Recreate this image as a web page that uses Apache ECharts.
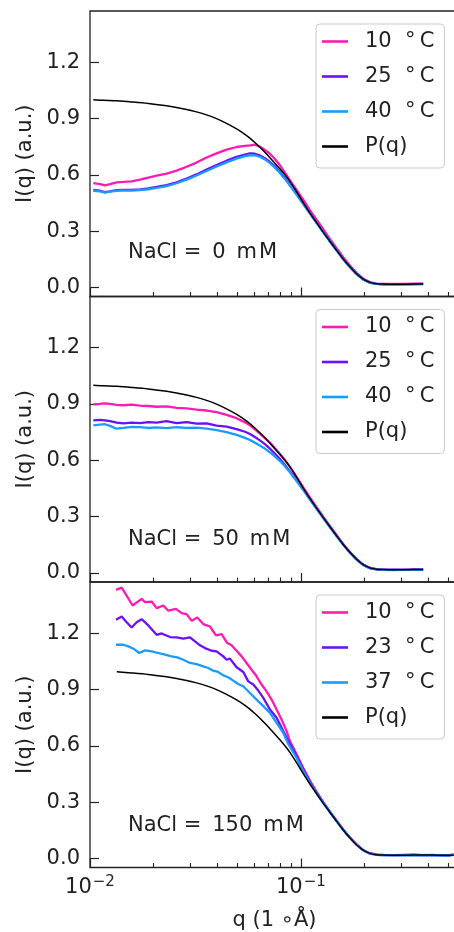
<!DOCTYPE html>
<html><head><meta charset="utf-8">
<script src="https://cdn.jsdelivr.net/npm/echarts@6/dist/echarts.min.js"></script>
<style>html,body{margin:0;padding:0;background:#fff}#c{width:454px;height:932px}</style>
</head><body><div id="c"></div>
<script>
// ---------------- DATA ----------------
const xMajorTicks = [0.01, 0.1];
const xMinorTicks = [0.02,0.03,0.04,0.05,0.06,0.07,0.08,0.09,0.2,0.3,0.4,0.5];
const yTicks = [0.0, 0.3, 0.6, 0.9, 1.2];
const panelLabels = ['NaCl = \u20090 \u2009m\u200aM', 'NaCl = \u200950 \u2009m\u200aM', 'NaCl = \u2009150 \u2009m\u200aM'];
const panelSeriesNames = [
  ['10  \u00b0\u2009C', '25  \u00b0\u2009C', '40  \u00b0\u2009C'],
  ['10  \u00b0\u2009C', '25  \u00b0\u2009C', '40  \u00b0\u2009C'],
  ['10  \u00b0\u2009C', '23  \u00b0\u2009C', '37  \u00b0\u2009C']
];
const pqName = 'P(q)';

// form factor P(q)
const pqQ = [0.01037,0.0115,0.0134,0.0158,0.0189,0.0231,0.0287,0.032,0.0357,0.0398,0.0444,0.0496,0.0543,0.0573,0.0605,0.0639,0.0675,0.0713,0.0753,0.0795,0.084,0.0887,0.0954,0.1026,0.1103,0.1187,0.1276,0.1372,0.1476,0.1587,0.1707,0.1836,0.1974,0.2123,0.2284,0.2456,0.274,0.3055,0.3407,0.38,0.42,0.47,0.53];
const pqI = [1.000,0.997,0.994,0.988,0.980,0.967,0.948,0.935,0.919,0.899,0.874,0.844,0.815,0.795,0.772,0.747,0.720,0.691,0.662,0.632,0.600,0.565,0.510,0.452,0.397,0.345,0.295,0.246,0.198,0.152,0.110,0.073,0.044,0.027,0.020,0.018,0.017,0.017,0.018,0.018,0.018,0.017,0.017];

// panels 1 and 2 share a q grid
const q12 = [0.01037,0.01115,0.01178,0.01244,0.01338,0.01439,0.01576,0.01726,0.0189,0.0207,0.02308,0.02574,0.02871,0.03201,0.03571,0.03984,0.04442,0.04955,0.05428,0.05733,0.06053,0.06392,0.06751,0.0713,0.07528,0.07953,0.08398,0.0887,0.09539,0.1026,0.1103,0.1187,0.1276,0.1372,0.1476,0.1587,0.1707,0.1836,0.1974,0.2123,0.2284,0.2456,0.274,0.3055,0.3407,0.38];

const p1_10C = [0.556,0.550,0.544,0.550,0.560,0.562,0.565,0.574,0.585,0.596,0.606,0.622,0.643,0.665,0.692,0.714,0.734,0.748,0.754,0.757,0.760,0.750,0.732,0.712,0.684,0.651,0.612,0.572,0.520,0.468,0.412,0.361,0.310,0.259,0.209,0.161,0.117,0.078,0.047,0.029,0.021,0.019,0.019,0.019,0.020,0.021];
const p1_25C = [0.520,0.515,0.508,0.512,0.518,0.520,0.520,0.522,0.527,0.535,0.545,0.560,0.580,0.602,0.628,0.652,0.675,0.695,0.708,0.714,0.712,0.703,0.688,0.668,0.645,0.615,0.583,0.547,0.497,0.446,0.396,0.345,0.296,0.247,0.199,0.152,0.110,0.072,0.043,0.026,0.019,0.017,0.017,0.017,0.018,0.019];
const p1_40C = [0.515,0.512,0.505,0.510,0.514,0.517,0.516,0.519,0.523,0.530,0.540,0.555,0.574,0.596,0.620,0.644,0.666,0.686,0.699,0.704,0.703,0.696,0.682,0.662,0.638,0.610,0.578,0.543,0.494,0.444,0.394,0.343,0.294,0.245,0.197,0.150,0.108,0.071,0.042,0.025,0.019,0.017,0.016,0.017,0.017,0.018];

const p2_10C = [0.898,0.900,0.903,0.900,0.895,0.893,0.896,0.891,0.889,0.885,0.887,0.879,0.876,0.870,0.865,0.856,0.842,0.824,0.802,0.786,0.765,0.742,0.718,0.694,0.664,0.633,0.601,0.566,0.512,0.456,0.402,0.350,0.300,0.251,0.202,0.155,0.112,0.075,0.045,0.028,0.020,0.018,0.018,0.018,0.019,0.019];
const p2_25C = [0.813,0.815,0.812,0.808,0.800,0.796,0.800,0.798,0.803,0.800,0.808,0.798,0.803,0.795,0.797,0.785,0.779,0.766,0.752,0.740,0.724,0.706,0.686,0.662,0.636,0.607,0.575,0.541,0.494,0.444,0.393,0.343,0.294,0.246,0.198,0.151,0.109,0.072,0.043,0.026,0.019,0.017,0.017,0.017,0.018,0.018];
const p2_40C = [0.786,0.790,0.792,0.783,0.768,0.772,0.778,0.777,0.772,0.775,0.771,0.776,0.773,0.774,0.768,0.760,0.750,0.735,0.719,0.708,0.694,0.679,0.662,0.642,0.621,0.596,0.568,0.536,0.490,0.442,0.391,0.342,0.293,0.245,0.197,0.150,0.108,0.071,0.042,0.025,0.019,0.017,0.016,0.017,0.017,0.018];

// panel 3 (each curve read at its own points)
const q3_10C = [0.01328,0.01413,0.01593,0.01757,0.01823,0.0196,0.0207,0.02226,0.02351,0.02556,0.02719,0.02872,0.03033,0.03226,0.03444,0.03705,0.03956,0.04207,0.04476,0.04692,0.04956,0.05234,0.05527,0.05837,0.06164,0.0651,0.06875,0.07261,0.07668,0.08098,0.08552,0.0887,0.0954,0.1026,0.1103,0.1187,0.1276,0.1372,0.1476,0.1587,0.1707,0.1836,0.1974,0.2123,0.2284,0.2456,0.274,0.3055,0.3407,0.38,0.42,0.47,0.50,0.53];
const i3_10C = [1.430,1.442,1.347,1.382,1.365,1.368,1.333,1.347,1.319,1.329,1.306,1.301,1.265,1.283,1.248,1.235,1.188,1.195,1.147,1.135,1.106,1.076,1.041,1.005,0.970,0.926,0.890,0.846,0.793,0.740,0.678,0.625,0.555,0.482,0.415,0.355,0.300,0.251,0.202,0.155,0.112,0.075,0.045,0.028,0.021,0.019,0.018,0.019,0.020,0.018,0.019,0.017,0.015,0.022];
const q3_23C = [0.01328,0.01413,0.01492,0.01576,0.01664,0.01757,0.0189,0.0207,0.02186,0.02394,0.02574,0.02769,0.02978,0.0318,0.03322,0.03508,0.03773,0.03984,0.04284,0.04443,0.04608,0.04956,0.0533,0.05629,0.05946,0.0628,0.06632,0.07131,0.07668,0.08246,0.0871,0.0954,0.1026,0.1103,0.1187,0.1276,0.1372,0.1476,0.1587,0.1707,0.1836,0.1974,0.2123,0.2284,0.2456,0.274,0.3055,0.3407,0.38,0.42,0.47,0.50,0.53];
const i3_23C = [1.271,1.288,1.258,1.230,1.258,1.274,1.241,1.191,1.198,1.179,1.177,1.170,1.177,1.152,1.135,1.120,1.106,1.103,1.076,1.058,1.064,1.018,0.993,0.943,0.926,0.894,0.855,0.793,0.749,0.678,0.625,0.545,0.475,0.408,0.350,0.297,0.248,0.200,0.153,0.111,0.074,0.044,0.027,0.020,0.018,0.018,0.018,0.019,0.018,0.018,0.017,0.016,0.020];
const q3_37C = [0.01328,0.01439,0.01519,0.01606,0.01713,0.01823,0.0196,0.02108,0.02267,0.02438,0.02593,0.02769,0.02978,0.03202,0.03444,0.03636,0.03839,0.04052,0.04284,0.04522,0.04776,0.05044,0.0533,0.05733,0.06164,0.06632,0.07131,0.07668,0.08246,0.0871,0.0954,0.1026,0.1103,0.1187,0.1276,0.1372,0.1476,0.1587,0.1707,0.1836,0.1974,0.2123,0.2284,0.2456,0.274,0.3055,0.3407,0.38,0.42,0.47,0.50,0.53];
const i3_37C = [1.138,1.138,1.129,1.117,1.094,1.108,1.103,1.094,1.085,1.076,1.071,1.058,1.041,1.035,1.023,1.014,1.000,0.993,0.975,0.965,0.947,0.929,0.917,0.881,0.846,0.811,0.775,0.722,0.669,0.610,0.535,0.465,0.400,0.345,0.295,0.247,0.199,0.152,0.110,0.073,0.043,0.026,0.019,0.018,0.017,0.017,0.018,0.017,0.018,0.016,0.015,0.019];

// ---------------- CHART ----------------
const FONT = '"DejaVu Sans", sans-serif';
const FS = 21;
const INK = '#222';
const colors = ['#ff1ab3', '#6b10ff', '#1a9bff'];
const tops = [11, 296.5, 582];
const panelH = 285.5;
const plotW = 375;
const yMin = -0.048, yMax = 1.472;
const xMin = 0.01, xMax = 0.6;

const zip = (xs, ys) => xs.map((x, k) => [x, ys[k]]);
const panelData = [
  [zip(q12, p1_10C), zip(q12, p1_25C), zip(q12, p1_40C), zip(pqQ, pqI).filter(d => d[0] <= 0.38)],
  [zip(q12, p2_10C), zip(q12, p2_25C), zip(q12, p2_40C), zip(pqQ, pqI).filter(d => d[0] <= 0.38)],
  [zip(q3_10C, i3_10C), zip(q3_23C, i3_23C), zip(q3_37C, i3_37C), zip(pqQ, pqI).filter(d => d[0] >= 0.0133)]
];

const grid = [], xAxis = [], yAxis = [], series = [], legend = [], graphic = [];
// decade label in log10 units: -2 -> 10^-2
const supFmt = v => '{b|10}{s|\u2212' + Math.abs(Math.round(v)) + '}';
for (let i = 0; i < 3; i++) {
  grid.push({left: 90, width: plotW, top: tops[i], height: panelH, show: true,
    outerBoundsMode: 'none', containLabel: false,
    borderColor: INK, borderWidth: 1.3, backgroundColor: 'transparent'});
  // main log axis: data scale
  xAxis.push({
    type: 'log', logBase: 10, gridIndex: i, min: xMin, max: xMax, position: 'bottom', offset: 0,
    axisLine: {show: false}, splitLine: {show: false}, axisTick: {show: false}, axisLabel: {show: false},
    name: i === 2 ? 'q (1 \u2218\u00c5)' : '', nameLocation: 'middle', nameGap: 43,
    nameTextStyle: {fontSize: FS, fontFamily: FONT, color: INK, padding: [0, 6, 0, 0]}
  });
  // tick/label axes in log10 units (major and minor ticks)
  xAxis.push({
    type: 'value', gridIndex: i, min: Math.log10(xMin), max: Math.log10(xMax), position: 'bottom', offset: 0,
    axisLine: {show: false}, splitLine: {show: false},
    axisLabel: {show: i === 2, customValues: xMajorTicks.map(Math.log10), formatter: supFmt, margin: 7,
      rich: {b: {fontSize: FS, fontFamily: FONT, color: INK},
             s: {fontSize: 15, fontFamily: FONT, color: INK, padding: [0, 0, 12, 1]}}},
    axisTick: {show: true, inside: true, length: 9, customValues: xMajorTicks.map(Math.log10), lineStyle: {color: INK, width: 1.2}}
  });
  xAxis.push({
    type: 'value', gridIndex: i, min: Math.log10(xMin), max: Math.log10(xMax), position: 'bottom', offset: 0,
    axisLine: {show: false}, splitLine: {show: false}, axisLabel: {show: false},
    axisTick: {show: true, inside: true, length: 4.5, customValues: xMinorTicks.map(Math.log10), lineStyle: {color: INK, width: 1.1}}
  });
  yAxis.push({
    type: 'value', gridIndex: i, min: yMin, max: yMax,
    axisLine: {show: false}, splitLine: {show: false},
    axisTick: {show: true, inside: true, length: 9, customValues: yTicks, lineStyle: {color: INK, width: 1.2}},
    axisLabel: {customValues: yTicks, formatter: v => v.toFixed(1), fontSize: FS, fontFamily: FONT, color: INK, margin: 10},
    name: 'I(q) (a.u.)', nameLocation: 'middle', nameGap: 53,
    nameTextStyle: {fontSize: FS, fontFamily: FONT, color: INK}
  });
  const names = panelSeriesNames[i];
  for (let s = 0; s < 3; s++) {
    series.push({type: 'line', name: names[s], xAxisIndex: 3 * i, yAxisIndex: i,
      data: panelData[i][s], symbol: 'none', showSymbol: false,
      lineStyle: {color: colors[s], width: 2.3}, itemStyle: {color: colors[s]}, z: 2});
  }
  series.push({type: 'line', name: pqName, xAxisIndex: 3 * i, yAxisIndex: i,
    data: panelData[i][3], symbol: 'none', showSymbol: false, smooth: 0.3,
    lineStyle: {color: '#000', width: 1.5}, itemStyle: {color: '#000'}, z: 3});
  legend.push({
    orient: 'vertical', left: 316, top: tops[i] + 13,
    data: names.concat([pqName]),
    icon: 'rect', itemWidth: 26, itemHeight: 2.6, itemGap: 14,
    padding: [7, 10, 11, 6],
    backgroundColor: 'rgba(255,255,255,0.85)', borderColor: '#cccccc', borderWidth: 1, borderRadius: 4,
    textStyle: {fontSize: FS, fontFamily: FONT, color: INK, padding: [0, 0, 0, 12]},
    selectedMode: false
  });
  graphic.push({type: 'text', left: 128, top: [242, 529, 815][i],
    style: {text: panelLabels[i], fontSize: FS, fontFamily: FONT, fill: INK}});
}

const chart = echarts.init(document.getElementById('c'), null, {renderer: 'canvas'});
chart.setOption({animation: false, backgroundColor: '#fff', grid, xAxis, yAxis, series, legend, graphic});
</script></body></html>
